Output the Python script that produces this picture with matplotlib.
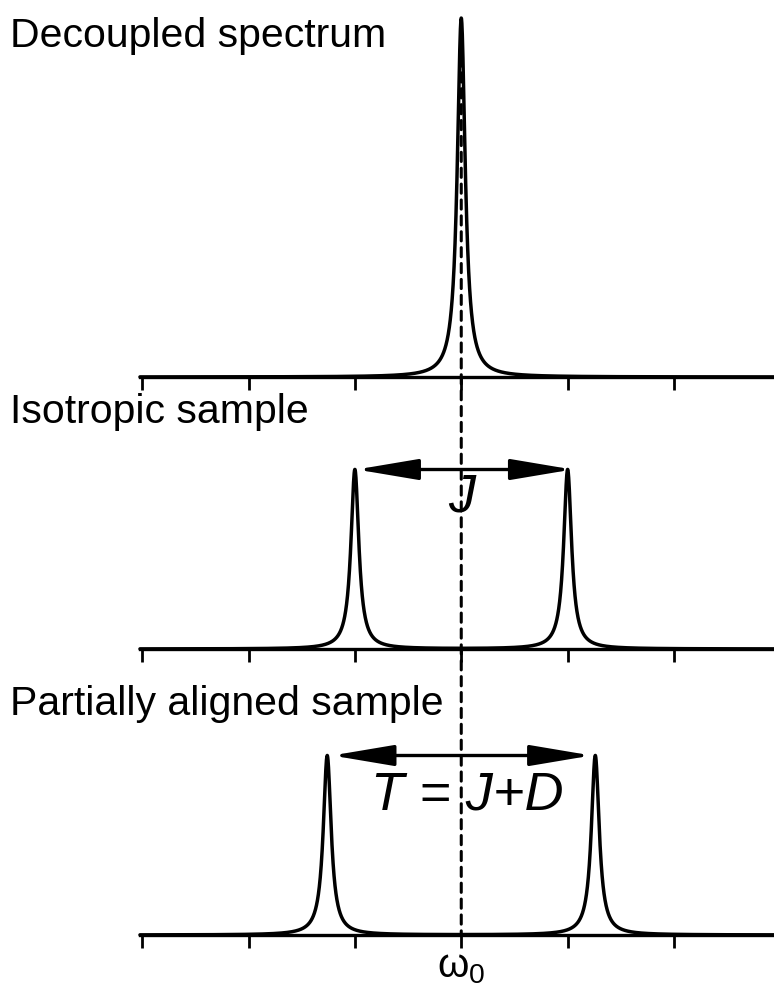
import numpy as np
import matplotlib
matplotlib.use("Agg")
import matplotlib.pyplot as plt
from matplotlib.patches import ConnectionPatch

plt.rcParams["font.family"] = ["Liberation Sans", "DejaVu Sans"]
plt.rcParams["mathtext.fontset"] = "custom"
plt.rcParams["mathtext.rm"] = "Liberation Sans"

# spectrum data (peak positions in units of the tick spacing, heights relative)
panel_titles = ["Decoupled spectrum", "Isotropic sample", "Partially aligned sample"]
peak_positions = [[0.0], [-1.0, 1.0], [-1.26, 1.26]]
peak_heights = [[1.0], [0.5, 0.5], [0.5, 0.5]]
linewidth_hwhm = 0.045
tick_values = [-3, -2, -1, 0, 1, 2]
arrow_ends = [None, (-0.985, 1.045), (-1.215, 1.225)]
arrow_labels = [None, "J", "T = J+D"]
label_pos = [None, (0.0, 0.425), (0.06, 0.39)]

W, H = 774, 987
fig = plt.figure(figsize=(W / 100, H / 100), dpi=100)

baselines_px = [378, 650, 936]
title_baselines_px = [47, 423, 715]
ax_h_px = 359
x0_px, x1_px = 140, 774
xlim = (-3.02, 2.94)

x = np.linspace(xlim[0], xlim[1], 4000)

axes = []
for i in range(3):
    bottom = 1 - baselines_px[i] / H
    ax = fig.add_axes([x0_px / W, bottom, (x1_px - x0_px) / W, ax_h_px / H])
    ax.patch.set_alpha(0)
    y = np.zeros_like(x)
    for pos, hgt in zip(peak_positions[i], peak_heights[i]):
        y += hgt * linewidth_hwhm**2 / (linewidth_hwhm**2 + (x - pos) ** 2)
    ax.plot(x, y, color="black", lw=2.5, clip_on=False, solid_capstyle="round")
    ax.set_xlim(*xlim)
    ax.set_ylim(0, 1)
    for s in ["left", "top", "right"]:
        ax.spines[s].set_visible(False)
    ax.spines["bottom"].set_linewidth(2.4)
    ax.set_yticks([])
    ax.set_xticks(tick_values)
    ax.tick_params(axis="x", direction="out", length=9, width=2.0, pad=0)
    if i == 2:
        ax.set_xticklabels(["", "", "", "ω$_0$", "", ""], fontsize=29)
    else:
        ax.set_xticklabels([])

    fig.text(10 / W, 1 - title_baselines_px[i] / H, panel_titles[i],
             fontsize=29.5, va="baseline", ha="left")

    if arrow_ends[i] is not None:
        a, b = arrow_ends[i]
        ax.annotate("", xy=(a, 0.5), xytext=(b, 0.5),
                    arrowprops=dict(arrowstyle="<|-|>,head_length=1.9,head_width=0.32",
                                    mutation_scale=20, lw=2.4, color="black",
                                    shrinkA=0, shrinkB=0))
        lx, ly = label_pos[i]
        ax.text(lx, ly, arrow_labels[i], fontsize=39, style="italic",
                ha="center", va="center")
    axes.append(ax)

# dashed line at the centre frequency through all panels
con = ConnectionPatch(xyA=(0, 0.98), coordsA=axes[0].transData,
                      xyB=(0, 0), coordsB=axes[2].transData,
                      color="black", lw=2.2, linestyle=(0, (3.0, 2.2)))
fig.add_artist(con)

fig.savefig("out.png", dpi=100)
